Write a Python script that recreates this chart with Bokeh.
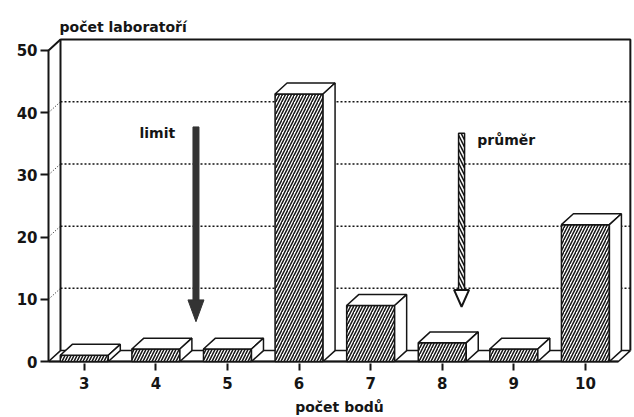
from bokeh.plotting import figure
from bokeh.models import Range1d, FixedTicker
from bokeh.core.properties import value
from bokeh.embed import file_html
from bokeh.resources import INLINE

# ---- data ----
categories = [3, 4, 5, 6, 7, 8, 9, 10]
counts = [1, 2, 2, 43, 9, 3, 2, 22]
y_ticks = [0, 10, 20, 30, 40, 50]
y_title = "počet laboratoří"
x_title = "počet bodů"
limit_label = "limit"
mean_label = "průměr"
limit_pos = 4.56
mean_pos = 8.27

# ---- geometry / style ----
FONT = value("DejaVu Sans")
W, H = 634, 417
BL, BR, BT, BB = 46, 2, 36, 52
FW, FH = W - BL - BR, H - BT - BB
SX = 71.59
SY = 6.26
FL = 2.5
FR = 10.46
X0 = FL - 2 / SX
X1 = X0 + FW / SX
Y0 = -2 / SY
Y1 = Y0 + FH / SY
DX = 12 / SX
DY = 11 / SY
BW = 48 / SX
TOP = 50
INK = "#151515"

p = figure(width=W, height=H, output_backend="svg", toolbar_location=None,
           x_range=Range1d(X0, X1), y_range=Range1d(Y0, Y1),
           min_border_left=BL, min_border_right=BR, min_border_top=BT,
           min_border_bottom=BB)
p.grid.visible = False
p.outline_line_color = None
p.background_fill_color = "white"

# title (y axis caption)
p.title.text = y_title
p.title.align = "left"
p.title.offset = 13
p.title.text_font = "DejaVu Sans"
p.title.text_font_size = "14px"
p.title.text_font_style = "bold"
p.title.text_color = INK
p.title.standoff = 3

# axes
p.yaxis.ticker = FixedTicker(ticks=y_ticks)
p.yaxis.axis_line_color = None
p.yaxis.major_tick_out = 6
p.yaxis.major_tick_in = 2
p.yaxis.major_tick_line_width = 2
p.yaxis.major_tick_line_color = INK
p.yaxis.minor_tick_line_color = None
p.yaxis.major_label_text_font = "DejaVu Sans"
p.yaxis.major_label_text_font_style = "bold"
p.yaxis.major_label_text_font_size = "15px"
p.yaxis.major_label_text_color = INK
p.yaxis.major_label_standoff = 3

p.xaxis.ticker = FixedTicker(ticks=categories)
p.xaxis.axis_line_color = None
p.xaxis.major_tick_out = 7
p.xaxis.major_tick_in = 0
p.xaxis.major_tick_line_width = 2
p.xaxis.major_tick_line_color = INK
p.xaxis.minor_tick_line_color = None
p.xaxis.major_label_text_font = "DejaVu Sans"
p.xaxis.major_label_text_font_style = "bold"
p.xaxis.major_label_text_font_size = "15px"
p.xaxis.major_label_text_color = INK
p.xaxis.major_label_standoff = 6
p.xaxis.axis_label = x_title
p.xaxis.axis_label_text_font = "DejaVu Sans"
p.xaxis.axis_label_text_font_style = "bold"
p.xaxis.axis_label_text_font_size = "14px"
p.xaxis.axis_label_text_color = INK
p.xaxis.axis_label_standoff = 7

# back wall
p.line([FL + DX, FL + DX, FR + DX, FR + DX], [DY, TOP + DY, TOP + DY, DY],
       line_color=INK, line_width=2)
# back gridlines (dotted)
grid_levels = [t for t in y_ticks if 0 < t < TOP]
p.segment(x0=[FL + DX] * len(grid_levels), y0=[t + DY for t in grid_levels],
          x1=[FR + DX] * len(grid_levels), y1=[t + DY for t in grid_levels],
          line_color=INK, line_width=1.5, line_dash="2 2")
# small dotted connectors from front axis to wall
p.segment(x0=[FL] * len(grid_levels), y0=grid_levels,
          x1=[FL + DX] * len(grid_levels), y1=[t + DY for t in grid_levels],
          line_color=INK, line_width=1, line_dash="1 2")
# floor
p.patch([FL, FR, FR + DX, FL + DX], [0, 0, DY, DY], fill_color="white",
        line_color=INK, line_width=1.5)
p.line([FL, FR], [0, 0], line_color=INK, line_width=2)
# front axis with corner
p.line([FL, FL, FL + DX], [0, TOP, TOP + DY], line_color=INK, line_width=2)

# bars
lefts = [c - BW / 2 for c in categories]
rights = [c + BW / 2 for c in categories]
p.quad(left=lefts, right=rights, bottom=[0] * len(counts), top=counts,
       fill_color="white", line_color=INK, line_width=1.5,
       hatch_pattern="/", hatch_color=INK, hatch_scale=6, hatch_weight=1.5)
top_xs = [[l, r, r + DX, l + DX] for l, r in zip(lefts, rights)]
top_ys = [[v, v, v + DY, v + DY] for v in counts]
p.patches(top_xs, top_ys, fill_color="white", line_color=INK, line_width=1.5)
side_xs = [[r, r + DX, r + DX, r] for r in rights]
side_ys = [[0, DY, v + DY, v] for v in counts]
p.patches(side_xs, side_ys, fill_color="white", line_color=INK, line_width=1.5)

# limit arrow (solid)
sw = 3 / SX
hw = 8 / SX
p.quad(left=[limit_pos - sw], right=[limit_pos + sw], bottom=[9.8], top=[37.7],
       fill_color="#333333", line_color="#333333", line_width=1)
p.patch([limit_pos - hw, limit_pos + hw, limit_pos], [9.9, 9.9, 6.4],
        fill_color="#333333", line_color="#333333", line_width=1)

# mean arrow (hatched outline)
p.quad(left=[mean_pos - sw], right=[mean_pos + sw], bottom=[11.5], top=[36.7],
       fill_color="white", line_color=INK, line_width=1.5,
       hatch_pattern="\\", hatch_color=INK, hatch_scale=7, hatch_weight=1.5)
hw2 = 7.5 / SX
p.patch([mean_pos - hw2, mean_pos + hw2, mean_pos], [11.5, 11.5, 8.8],
        fill_color="white", line_color=INK, line_width=2)

# labels
p.text(x=[4.02], y=[36.7], text=[limit_label], text_font=FONT,
       text_font_style="bold", text_font_size="14px", text_color=INK,
       text_align="center", text_baseline="middle")
p.text(x=[8.49], y=[35.6], text=[mean_label], text_font=FONT,
       text_font_style="bold", text_font_size="14px", text_color=INK,
       text_align="left", text_baseline="middle")

open("out.html", "w").write(file_html(p, INLINE))
